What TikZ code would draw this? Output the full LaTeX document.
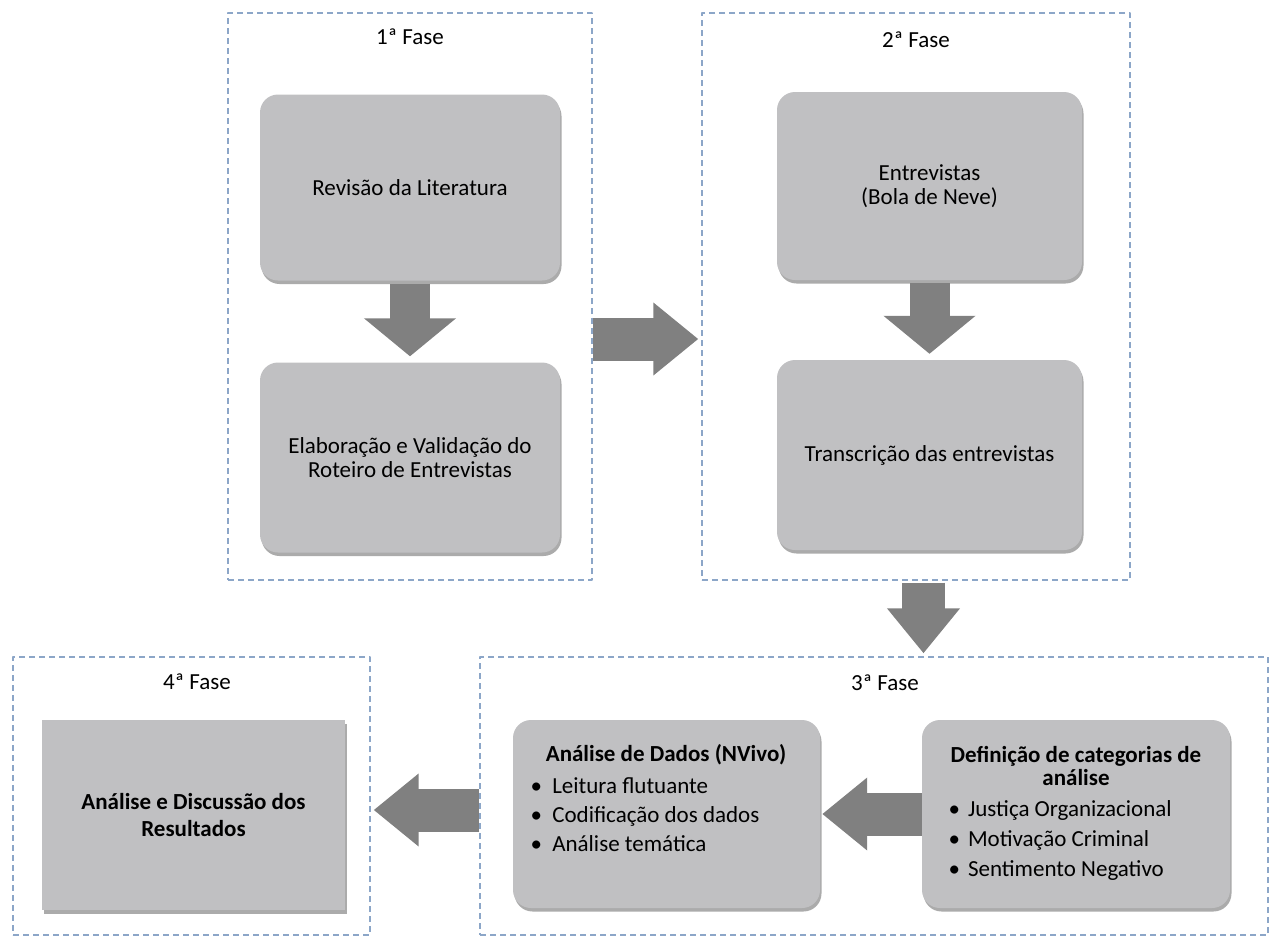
\documentclass[tikz,border=0pt]{standalone}
\usepackage{fontspec}
\setmainfont{Carlito}
\usetikzlibrary{arrows.meta,shadows}
\definecolor{borda}{RGB}{140,166,200}
\definecolor{caixa}{RGB}{192,192,194}
\definecolor{cinza}{RGB}{128,128,128}

\begin{document}
\begin{tikzpicture}[x=1pt,y=-1pt,line join=round,
  fase/.style={draw=borda,dash pattern=on 6pt off 4pt,line width=1.3pt},
  titulo/.style={font=\fontsize{23}{26}\selectfont},
  etapa/.style={fill=caixa,rounded corners=18pt,align=center,font=\fontsize{23}{24}\selectfont,drop shadow={shadow xshift=1.5pt,shadow yshift=-3.5pt,opacity=.55,fill=black!60}},
  cabec/.style={align=center,font=\bfseries\fontsize{23}{23}\selectfont},
  lista/.style={align=left,font=\fontsize{23}{29}\selectfont},
  seta/.style={draw=cinza,line width=43pt,line cap=butt,-{Triangle[length=45pt,width=70pt]}},
  setalarga/.style={seta,line width=40pt,-{Triangle[length=38pt,width=90pt]}}]
\useasboundingbox (0,0) rectangle (1270,938);
\node[fase,minimum width=364pt,minimum height=567pt] (fase1) at (410,296.5) {};
\node[fase,minimum width=428pt,minimum height=567pt] (fase2) at (916,296.5) {};
\node[fase,minimum width=788pt,minimum height=278pt] (fase3) at (874,796) {};
\node[fase,minimum width=357pt,minimum height=278pt] (fase4) at (191.5,796) {};
\node[titulo] (tit1) at (410,37) {1ª Fase};
\node[titulo] (tit2) at (916,40) {2ª Fase};
\node[titulo] (tit3) at (885,683) {3ª Fase};
\node[titulo] (tit4) at (197,682) {4ª Fase};
\node[etapa,minimum width=300pt,minimum height=186pt] (rev) at (410,187.5) {Revisão da Literatura};
\node[etapa,minimum width=300pt,minimum height=190pt] (elab) at (410,457.5) {Elaboração e Validação do\\Roteiro de Entrevistas};
\node[etapa,minimum width=305pt,minimum height=188pt] (entr) at (929.5,186) {Entrevistas\\(Bola de Neve)};
\node[etapa,minimum width=305pt,minimum height=190pt] (trans) at (929.5,455) {Transcrição das entrevistas};
\node[etapa,sharp corners,font=\bfseries\fontsize{23}{27}\selectfont,minimum width=303pt,minimum height=190pt] (result) at (193.5,815) {Análise e Discussão dos\\Resultados};
\node[etapa,minimum width=307pt,minimum height=188pt] (dados) at (666.5,814) {};
\node[etapa,minimum width=308pt,minimum height=188pt] (categ) at (1076,814) {};
\node[cabec] (dadoscab) at (666,755) {Análise de Dados (NVivo)};
\node[lista,anchor=west] (dadoslista) at (527,815) {\textbullet\hspace{.45em}Leitura flutuante\\\textbullet\hspace{.45em}Codificação dos dados\\\textbullet\hspace{.45em}Análise temática};
\node[cabec] (categcab) at (1076,766) {Definição de categorias de\\análise};
\node[lista,anchor=west,font=\fontsize{23}{30}\selectfont] (categlista) at (945,840) {\textbullet\hspace{.35em}Justiça Organizacional\\\textbullet\hspace{.35em}Motivação Criminal\\\textbullet\hspace{.35em}Sentimento Negativo};
\draw[setalarga,shorten <=3pt,shorten >=6pt] (rev) -- (elab);
\draw[setalarga,shorten <=3pt,shorten >=6pt] (entr) -- (trans);
\draw[seta,shorten >=3pt] (fase1.east |- 0,339) -- (fase2.west |- 0,339);
\draw[seta,shorten <=2pt,shorten >=3pt] (fase2.south -| 923.5,0) -- (fase3.north -| 923.5,0);
\draw[seta,shorten >=2pt] (categ) -- (dados);
\draw[seta,shorten >=3pt] (fase3.west |- 0,810) -- (fase4.east |- 0,810);
\end{tikzpicture}
\end{document}
